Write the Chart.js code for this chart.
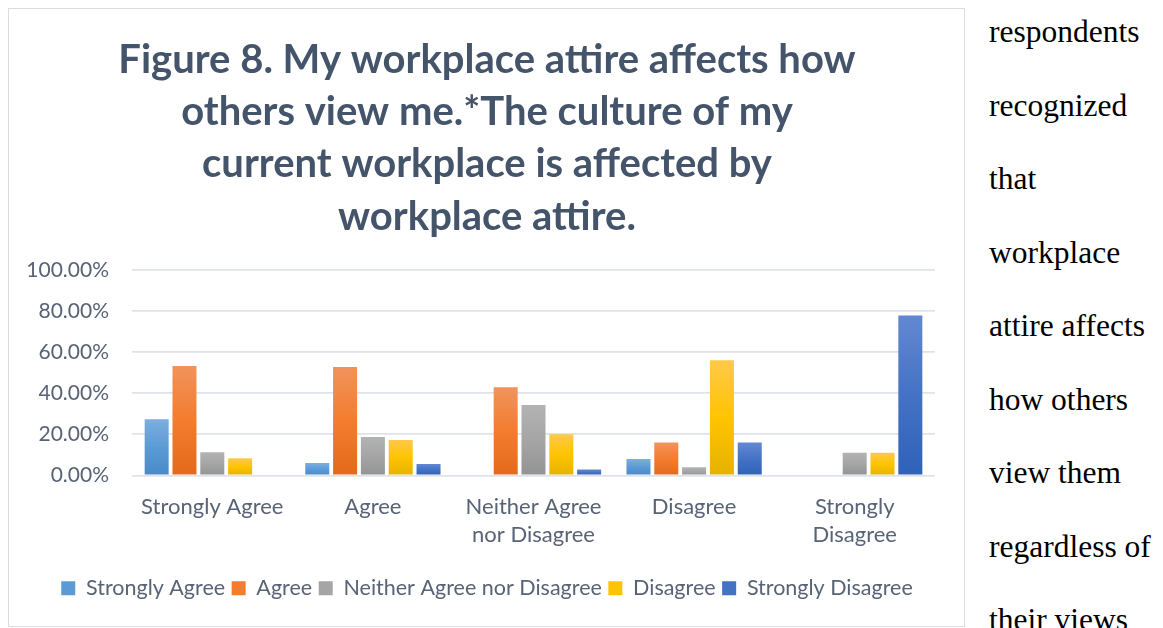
<!DOCTYPE html>
<html>
<head>
<meta charset="utf-8">
<script src="https://cdn.jsdelivr.net/npm/chart.js@4/dist/chart.umd.min.js"></script>
<style>
  html, body { margin: 0; padding: 0; background: #fff; width: 1163px; height: 628px; overflow: hidden; }
  #box {
    position: absolute; left: 8px; top: 8px; width: 957px; height: 619px;
    box-sizing: border-box; border: 1px solid #d9dde3; background: #fff;
  }
  #wrap { position: absolute; left: 0; top: 0; right: 0; bottom: 0; }
  #side {
    position: absolute; left: 989px; top: -5px; width: 180px;
    font-family: "Liberation Serif", "DejaVu Serif", serif; font-size: 31.5px;
    line-height: 73.5px; color: #000; white-space: nowrap;
  }
</style>
</head>
<body>
<div id="box"><div id="wrap"><canvas id="attireChart"></canvas></div></div>
<div id="side">
  respondents<br>recognized<br>that<br>workplace<br>attire affects<br>how others<br>view them<br>regardless of<br>their views
</div>
<script>
// answer categories along the x axis
const categories = ["Strongly Agree", "Agree", ["Neither Agree", "nor Disagree"], "Disagree", ["Strongly", "Disagree"]];

// series: share of respondents (%) per response
const seriesNames = ["Strongly Agree", "Agree", "Neither Agree nor Disagree", "Disagree", "Strongly Disagree"];
const stronglyAgree    = [27.4, 6.1, 0, 8.0, 0];
const agree            = [53.2, 52.8, 42.9, 16.0, 0];
const neither          = [11.3, 18.7, 34.3, 4.0, 11.1];
const disagree         = [8.4, 17.3, 20.0, 56.0, 11.1];
const stronglyDisagree = [0, 5.6, 2.9, 16.0, 77.8];

const yTicks = [0, 20, 40, 60, 80, 100];

const titleLines = [
  "Figure 8. My workplace attire affects how",
  "others view me.*The culture of my",
  "current workplace is affected by",
  "workplace attire."
];

// [top, middle, bottom] colours for the bar gradients
const palette = [
  ["#7daee0", "#5b9bd5", "#4a89c6"],
  ["#f1935c", "#f37c2e", "#e26a1a"],
  ["#b3b3b3", "#a5a5a5", "#939393"],
  ["#ffc94a", "#ffc400", "#e5b200"],
  ["#6388d1", "#4472c4", "#2f62b8"]
];

// vertical gradient running from each bar's top to the baseline
function barFill(cols) {
  return function (ctx) {
    const chart = ctx.chart;
    if (ctx.type !== "data" || !chart.chartArea) return cols[1];
    const y = chart.scales.y;
    const top = y.getPixelForValue(ctx.parsed.y);
    const base = y.getPixelForValue(0);
    if (base - top < 1) return cols[2];
    const g = chart.ctx.createLinearGradient(0, top, 0, base);
    g.addColorStop(0, cols[0]);
    g.addColorStop(0.5, cols[1]);
    g.addColorStop(1, cols[2]);
    return g;
  };
}

const values = [stronglyAgree, agree, neither, disagree, stronglyDisagree];
const datasets = values.map((data, i) => ({
  label: seriesNames[i],
  data: data,
  backgroundColor: barFill(palette[i]),
  borderWidth: 0,
  categoryPercentage: 0.866,
  barPercentage: 0.863
}));

const textColor = "#586376";
const font = "Lato, 'Open Sans', sans-serif";

// the y labels reach past the left padding, so let them draw there
const yLabelRoom = {
  id: "yLabelRoom",
  afterLayout: chart => { chart.scales.y.left = 0; }
};

new Chart(document.getElementById("attireChart").getContext("2d"), {
  type: "bar",
  data: { labels: categories, datasets: datasets },
  plugins: [yLabelRoom],
  options: {
    responsive: true,
    maintainAspectRatio: false,
    animation: false,
    layout: { padding: { left: 30, right: 29, top: 0, bottom: 17 } },
    plugins: {
      title: {
        display: true,
        text: titleLines,
        color: "#44546a",
        font: { family: font, size: 40, weight: "bold", lineHeight: 1.305 },
        padding: { top: 25, bottom: 27 }
      },
      legend: {
        position: "bottom",
        labels: {
          color: textColor,
          font: { family: font, size: 21.5 },
          boxWidth: 14,
          boxHeight: 14,
          padding: 6.5,
          generateLabels: chart => chart.data.datasets.map((ds, i) => ({
            text: ds.label,
            fillStyle: palette[i][1],
            strokeStyle: palette[i][1],
            lineWidth: 0,
            fontColor: textColor,
            datasetIndex: i
          }))
        }
      },
      tooltip: { enabled: false }
    },
    scales: {
      x: {
        grid: { display: false, drawTicks: false },
        border: { display: false },
        ticks: {
          color: textColor,
          font: { family: font, size: 22, lineHeight: 1.27 },
          padding: 17.5,
          maxRotation: 0,
          autoSkip: false
        },
        afterFit: scale => { scale.height = 95.5; }
      },
      y: {
        min: yTicks[0],
        max: yTicks[yTicks.length - 1],
        afterBuildTicks: scale => { scale.ticks = yTicks.map(v => ({ value: v })); },
        grid: { color: "#dfe3e9", lineWidth: 1.8, drawTicks: false },
        border: { display: false },
        ticks: {
          color: textColor,
          font: { family: font, size: 21 },
          padding: 23,
          callback: v => v.toFixed(2) + "%"
        },
        afterFit: scale => { scale.width = 93; }
      }
    }
  }
});
</script>
</body>
</html>
